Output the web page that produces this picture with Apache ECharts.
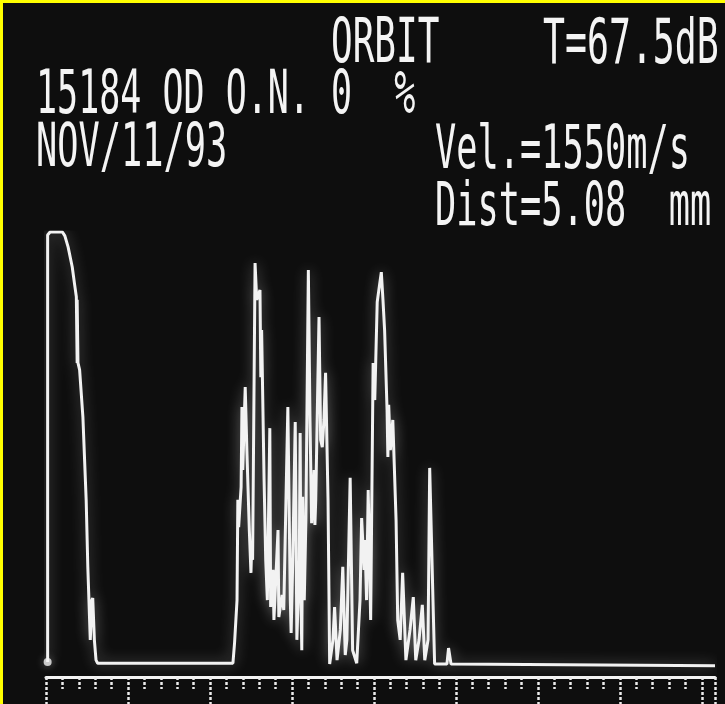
<!DOCTYPE html>
<html><head><meta charset="utf-8">
<script src="https://cdn.jsdelivr.net/npm/echarts@6/dist/echarts.min.js"></script>
<style>html,body{margin:0;padding:0;background:#0e0e0e;} #c{width:725px;height:704px;}</style>
</head><body><div id="c"></div>
<script>
// Screen texts
const headerTexts = ['ORBIT', 'T=67.5dB', '15184 OD O.N. 0  %', 'NOV/11/93', 'Vel.=1550m/s', 'Dist=5.08  mm'];
// A-scan trace: depth (divisions) and echo amplitude (% of full scale)
const traceX = [0.2,0.2,0.2,0.5,2.0,2.3,2.7,3.2,3.5,3.7,3.8,3.8,3.9,4.1,4.5,4.9,5.1,5.4,5.6,5.7,5.9,6.1,6.3,
  22.8,23.0,23.3,23.4,23.5,23.7,23.8,23.9,24.0,24.3,24.5,24.8,25.0,25.1,25.2,25.5,25.7,26.1,26.2,26.3,26.6,26.8,27.0,
  27.3,27.4,27.7,27.8,28.3,28.4,28.8,29.0,29.5,29.8,29.9,30.1,30.4,30.6,30.9,31.0,31.1,31.2,31.3,31.5,31.7,32.0,32.2,
  32.4,32.7,32.8,32.9,33.3,33.5,33.7,33.9,34.1,34.4,34.6,35.0,35.2,35.5,35.9,36.2,36.5,36.7,37.1,37.4,37.9,38.3,38.5,
  38.8,38.9,39.1,39.3,39.6,39.9,40.1,40.4,40.6,40.9,41.1,41.3,41.6,41.7,41.8,42.0,42.3,42.7,42.9,43.2,43.5,43.9,44.4,
  44.8,45.1,45.5,45.9,46.2,46.6,46.8,47.2,47.4,48.0,48.9,49.1,49.4,81.6];
const traceY = [0.5,84.3,99.3,100,100,99.1,96.5,91.9,87.7,85.0,69.7,84.3,69.7,68.1,57.2,38.0,22.5,5.6,14.8,15.3,5.6,0.9,0.2,
  0.2,4.9,14.8,38.0,31.7,38.0,41.0,59.5,44.9,64.1,49.5,31.0,21.1,28.0,24.1,92.8,84.3,86.6,66.4,77.3,42.6,24.1,14.8,
  54.6,13.2,21.8,10.2,31.0,10.9,16.0,12.5,59.5,14.8,7.2,24.1,56.0,5.6,24.1,53.5,14.8,3.2,38.7,14.8,33.3,91.2,56.5,
  32.6,44.9,32.2,38.0,80.3,51.9,50.2,56.5,67.4,38.0,0,5.6,13.2,0.9,7.9,22.5,2.1,5.6,43.1,3.2,0.2,14.8,33.8,
  21.8,28.7,14.8,40.3,10.2,69.7,61.1,83.8,86.6,90.7,84.3,77.3,58.8,47.9,60.0,49.5,56.5,33.3,10.2,5.6,21.1,0.9,7.9,
  15.5,0.9,5.6,13.7,0.9,5.6,45.4,14.8,0,0,0,3.7,0,-0.4];
const startDot = [[0.2, 0.5]];
const xMin = 0, xMax = 81.6, xStep = 10, minorSplit = 5;
const yMin = -3, yMax = 100;

// layout (top-left of each text line, px) and font size per line
const headerPos = [[331,15],[543,15],[36,67],[36,120],[435,122],[435,179]];
const headerSize = [36, 36.5, 35, 35.3, 35.3, 35.3];

const chart = echarts.init(document.getElementById('c'), null, {renderer: 'canvas'});
const data = traceX.map((x, i) => [x, traceY[i]]);

const graphics = [
  {type: 'rect', shape: {x: 0, y: 0, width: 725, height: 3}, style: {fill: '#ffff00'}, z: 100},
  {type: 'rect', shape: {x: 0, y: 0, width: 3, height: 704}, style: {fill: '#ffff00'}, z: 100}
];
headerTexts.forEach((t, i) => {
  graphics.push({
    type: 'text', x: headerPos[i][0], y: headerPos[i][1], scaleY: 1.72, z: 50,
    style: {
      text: t, fill: '#f4f4f4', font: 'normal ' + headerSize[i] + 'px "DejaVu Sans Mono"',
      verticalAlign: 'top', align: 'left',
      shadowColor: 'rgba(200,200,200,0.55)', shadowBlur: 8
    }
  });
});

chart.setOption({
  animation: false,
  backgroundColor: '#0e0e0e',
  graphic: graphics,
  grid: {left: 46, right: 10, top: 232, bottom: 27},
  xAxis: {
    type: 'value', min: xMin, max: xMax, interval: xStep,
    axisLine: {show: true, onZero: false, lineStyle: {color: '#f4f4f4', width: 3}},
    axisTick: {show: true, length: 28, lineStyle: {color: '#ececec', width: 2.5, type: [3, 2]}},
    minorTick: {show: true, splitNumber: minorSplit, length: 12, lineStyle: {color: '#ececec', width: 2.5, type: [3, 2]}},
    axisLabel: {show: false},
    splitLine: {show: false}
  },
  yAxis: {
    type: 'value', min: yMin, max: yMax, show: false, splitLine: {show: false}
  },
  series: [
    {
      type: 'line', data: data, showSymbol: false, silent: true,
      lineStyle: {color: '#f2f2f2', width: 3, shadowColor: 'rgba(220,220,220,0.45)', shadowBlur: 14}
    },
    {
      type: 'scatter', data: startDot, symbolSize: 8, silent: true,
      itemStyle: {color: '#f2f2f2', shadowColor: 'rgba(220,220,220,0.5)', shadowBlur: 8}
    }
  ]
});
</script>
</body></html>
